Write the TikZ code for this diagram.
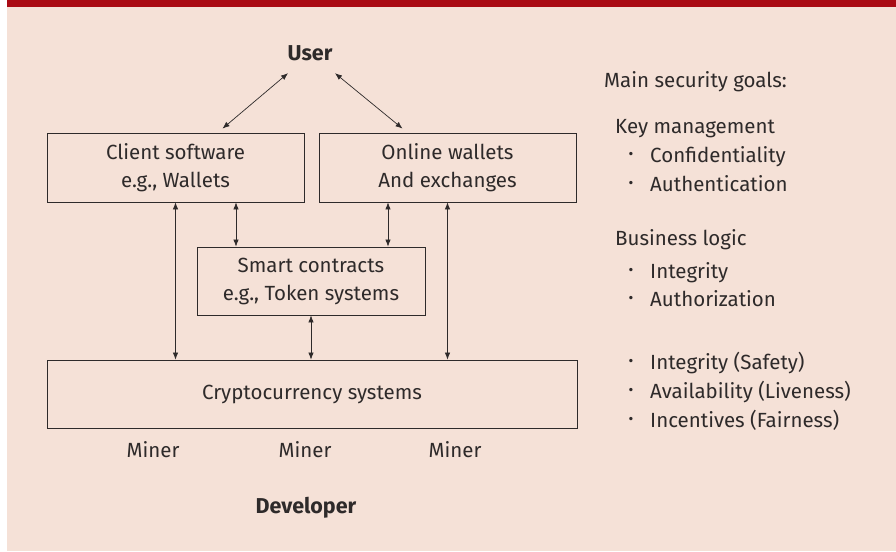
\documentclass[tikz,border=0pt]{standalone}
\usepackage{fontspec}
\setmainfont{Fira Sans}
\usetikzlibrary{arrows.meta,positioning}
\definecolor{bannerred}{HTML}{AA0A14}
\definecolor{paper}{HTML}{F5E1D7}
\definecolor{ink}{HTML}{2E2A2A}

\begin{document}
\begin{tikzpicture}[x=1pt,y=-1pt,
font=\fontsize{20.5}{24}\selectfont, text=ink,
box/.style={draw=ink, line width=0.9pt, minimum height=69pt, align=center,
  inner sep=0pt, font=\fontsize{20.5}{28}\selectfont},
link/.style={{Latex[length=7pt,width=5.5pt]}-{Latex[length=7pt,width=5.5pt]},
  draw=ink, line width=0.7pt},
heading/.style={inner sep=0pt, text height=14pt, text depth=4pt,
  font=\bfseries\fontsize{21.5}{24}\selectfont},
goal/.style={anchor=west, inner sep=0pt, text height=14pt, text depth=4pt},
bullet/.style={inner sep=0pt, font=\fontsize{24}{24}\selectfont}]
\useasboundingbox (0,0) rectangle (896,551);
\fill[white] (0,0) rectangle (7,551);
\fill[paper] (7,7) rectangle (896,551);
\fill[bannerred] (7,0) rectangle (896,7);
% boxes
\node[heading] (user) at (310,55) {User};
\node[box, minimum width=257pt] (client) at (175.5,167.5) {Client software\\e.g., Wallets};
\node[box, minimum width=257pt] (online) at (447.5,167.5) {Online wallets\\And exchanges};
\node[box, minimum width=228pt, minimum height=68pt] (smart) at (311,281) {Smart contracts\\e.g., Token systems};
\node[box, minimum width=530pt, minimum height=68pt] (crypto) at (312,394) {Cryptocurrency systems};
\foreach \x/\n in {153/minerA,305/minerB,455/minerC}
  \node[goal, anchor=center] (\n) at (\x,452) {Miner};
\node[heading] (dev) at (306,508) {Developer};
% links
\draw[link] ([xshift=-22pt,yshift=-9pt]user.south) -- ([xshift=47pt,yshift=4pt]client.north);
\draw[link] ([xshift=25pt,yshift=-9pt]user.south) -- ([xshift=-45pt,yshift=4pt]online.north);
\draw[link] ([xshift=60.5pt]client.south) -- ([xshift=60.5pt]client.south |- smart.north);
\draw[link] ([xshift=-59.5pt]online.south) -- ([xshift=-59.5pt]online.south |- smart.north);
\draw[link] (client.south) -- (client.south |- crypto.north);
\draw[link] (online.south) -- (online.south |- crypto.north);
\draw[link] (smart.south) -- (smart.south |- crypto.north);
% security goals
\node[goal] (goals) at (604,82) {Main security goals:};
\node[goal] (keymgmt) at (615,128) {Key management};
\node[goal] (bizlogic) at (615,240) {Business logic};
\foreach \y/\t in {157/Confidentiality,186/Authentication,273/Integrity,301/Authorization,
  364/Integrity (Safety),393/Availability (Liveness),422/Incentives (Fairness)}{
  \node[bullet] (dot\y) at (631,\y) {·};
  \node[goal] (item\y) at (650,\y) {\t};
}
\end{tikzpicture}
\end{document}
